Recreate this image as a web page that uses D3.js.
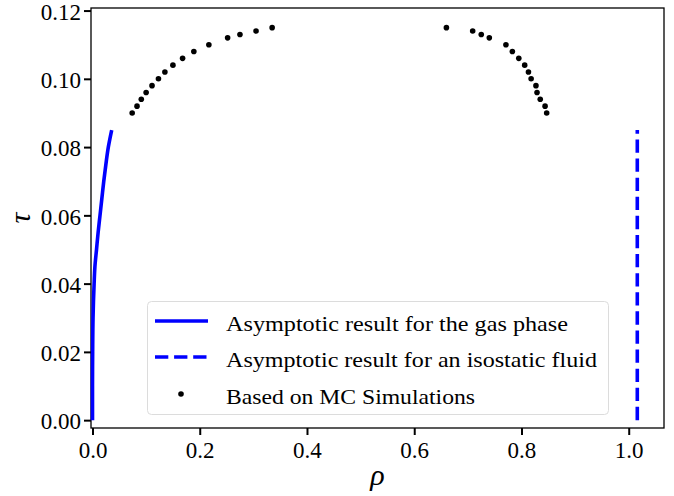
<!DOCTYPE html>
<html>
<head>
<meta charset="utf-8">
<title>Phase diagram</title>
<script src="https://d3js.org/d3.v7.min.js"></script>
<style>
  body { margin: 0; background: #fff; }
</style>
</head>
<body>
<script>
// asymptotic gas phase curve (rho vs tau)
var gasTau = [0.000, 0.010, 0.020, 0.030, 0.040, 0.045, 0.050, 0.055, 0.060, 0.065, 0.070, 0.075, 0.080, 0.085];
var gasRho = [0.0000, 0.0000, 0.0003, 0.0010, 0.0030, 0.0045, 0.0075, 0.0105, 0.0140, 0.0175, 0.0210, 0.0250, 0.0295, 0.0358];

// isostatic fluid: vertical line
var fluidRho = 1.016;
var fluidTau = [0, 0.085];

// MC simulation points
var mcRho = [0.074, 0.083, 0.091, 0.100, 0.111, 0.123, 0.135, 0.150, 0.168, 0.189, 0.217, 0.252, 0.275, 0.305, 0.335,
             0.660, 0.709, 0.725, 0.740, 0.771, 0.783, 0.795, 0.806, 0.813, 0.818, 0.827, 0.829, 0.835, 0.844, 0.847];
var mcTau = [0.090, 0.092, 0.094, 0.096, 0.098, 0.100, 0.102, 0.104, 0.106, 0.108, 0.110, 0.112, 0.113, 0.114, 0.115,
             0.115, 0.114, 0.113, 0.112, 0.110, 0.108, 0.106, 0.104, 0.102, 0.100, 0.098, 0.096, 0.094, 0.092, 0.090];

var xTicks = [0, 0.2, 0.4, 0.6, 0.8, 1.0];
var yTicks = [0, 0.02, 0.04, 0.06, 0.08, 0.10, 0.12];

var legendLabels = ["Asymptotic result for the gas phase",
                    "Asymptotic result for an isostatic fluid",
                    "Based on MC Simulations"];

var serif = "'Liberation Serif', 'DejaVu Serif', 'Times New Roman', Times, serif";

var W = 674, H = 496;
var margin = {top: 8, right: 10, bottom: 68, left: 91};
var width = W - margin.left - margin.right,
    height = H - margin.top - margin.bottom;

var svg = d3.select("body").append("svg")
    .attr("width", W)
    .attr("height", H);

var g = svg.append("g")
    .attr("transform", "translate(" + margin.left + "," + margin.top + ")");

var x = d3.scaleLinear().domain([-0.0028, 1.0658]).range([0, width]);
var y = d3.scaleLinear().domain([-0.0023, 0.12075]).range([height, 0]);

// axes
var xAxis = g.append("g")
    .attr("transform", "translate(0," + height + ")")
    .call(d3.axisBottom(x).tickValues(xTicks).tickFormat(d3.format(".1f")).tickSize(7).tickPadding(5));
var yAxis = g.append("g")
    .call(d3.axisLeft(y).tickValues(yTicks).tickFormat(d3.format(".2f")).tickSize(7).tickPadding(3));

[xAxis, yAxis].forEach(function(a) {
  a.attr("font-family", null);
  a.select(".domain").remove();
  a.selectAll(".tick line").attr("stroke", "#000").attr("stroke-width", 2);
  a.selectAll(".tick text").style("font-family", serif).style("font-size", "23px");
});
xAxis.selectAll(".tick text").attr("dy", "0.78em");
yAxis.selectAll(".tick text").attr("dy", "0.38em");

// frame
g.append("rect")
    .attr("width", width)
    .attr("height", height)
    .attr("fill", "none")
    .attr("stroke", "#000")
    .attr("stroke-width", 1.3);

var plot = g.append("g");

// gas phase curve
var gasData = gasTau.map(function(t, i) { return {rho: gasRho[i], tau: t}; });
plot.append("path")
    .datum(gasData)
    .attr("fill", "none")
    .attr("stroke", "#0000ff")
    .attr("stroke-width", 3.6)
    .attr("d", d3.line().curve(d3.curveMonotoneY)
        .x(function(d) { return x(d.rho); })
        .y(function(d) { return y(d.tau); }));

// isostatic fluid
plot.append("line")
    .attr("x1", x(fluidRho)).attr("x2", x(fluidRho))
    .attr("y1", y(fluidTau[0])).attr("y2", y(fluidTau[1]))
    .attr("stroke", "#0000ff")
    .attr("stroke-width", 3.6)
    .attr("stroke-dasharray", "13.3,5.8");

// MC points
plot.selectAll("circle.mc")
    .data(mcRho)
  .enter().append("circle")
    .attr("class", "mc")
    .attr("cx", function(d) { return x(d); })
    .attr("cy", function(d, i) { return y(mcTau[i]); })
    .attr("r", 2.8)
    .attr("fill", "#000");

// axis labels
svg.append("text")
    .attr("x", margin.left + width / 2)
    .attr("y", 485)
    .attr("text-anchor", "middle")
    .style("font-family", serif)
    .style("font-size", "30px")
    .style("font-style", "italic")
    .text("ρ");

svg.append("text")
    .attr("transform", "translate(30," + (margin.top + height / 2) + ") rotate(-90)")
    .attr("text-anchor", "middle")
    .style("font-family", serif)
    .style("font-size", "30px")
    .style("font-style", "italic")
    .text("τ");

// legend
var leg = svg.append("g");
leg.append("rect")
    .attr("x", 147.5).attr("y", 301.5)
    .attr("width", 461).attr("height", 113)
    .attr("rx", 4)
    .attr("fill", "#fff")
    .attr("fill-opacity", 0.8)
    .attr("stroke", "#dcdcdc")
    .attr("stroke-width", 1);

var rowY = [321, 357, 394];
var textLen = [342, 371, 249];

leg.append("line")
    .attr("x1", 155).attr("x2", 208)
    .attr("y1", rowY[0]).attr("y2", rowY[0])
    .attr("stroke", "#0000ff").attr("stroke-width", 3.6);
leg.append("line")
    .attr("x1", 155).attr("x2", 208)
    .attr("y1", rowY[1]).attr("y2", rowY[1])
    .attr("stroke", "#0000ff").attr("stroke-width", 3.6)
    .attr("stroke-dasharray", "13.3,5.8");
leg.append("circle")
    .attr("cx", 181).attr("cy", rowY[2]).attr("r", 2.8)
    .attr("fill", "#000");

leg.selectAll("text.lab")
    .data(legendLabels)
  .enter().append("text")
    .attr("class", "lab")
    .attr("x", 226)
    .attr("y", function(d, i) { return rowY[i] + 2; })
    .attr("dy", "0.35em")
    .style("font-family", serif)
    .style("font-size", "22px")
    .attr("textLength", function(d, i) { return textLen[i]; })
    .attr("lengthAdjust", "spacingAndGlyphs")
    .text(function(d) { return d; });
</script>
</body>
</html>
